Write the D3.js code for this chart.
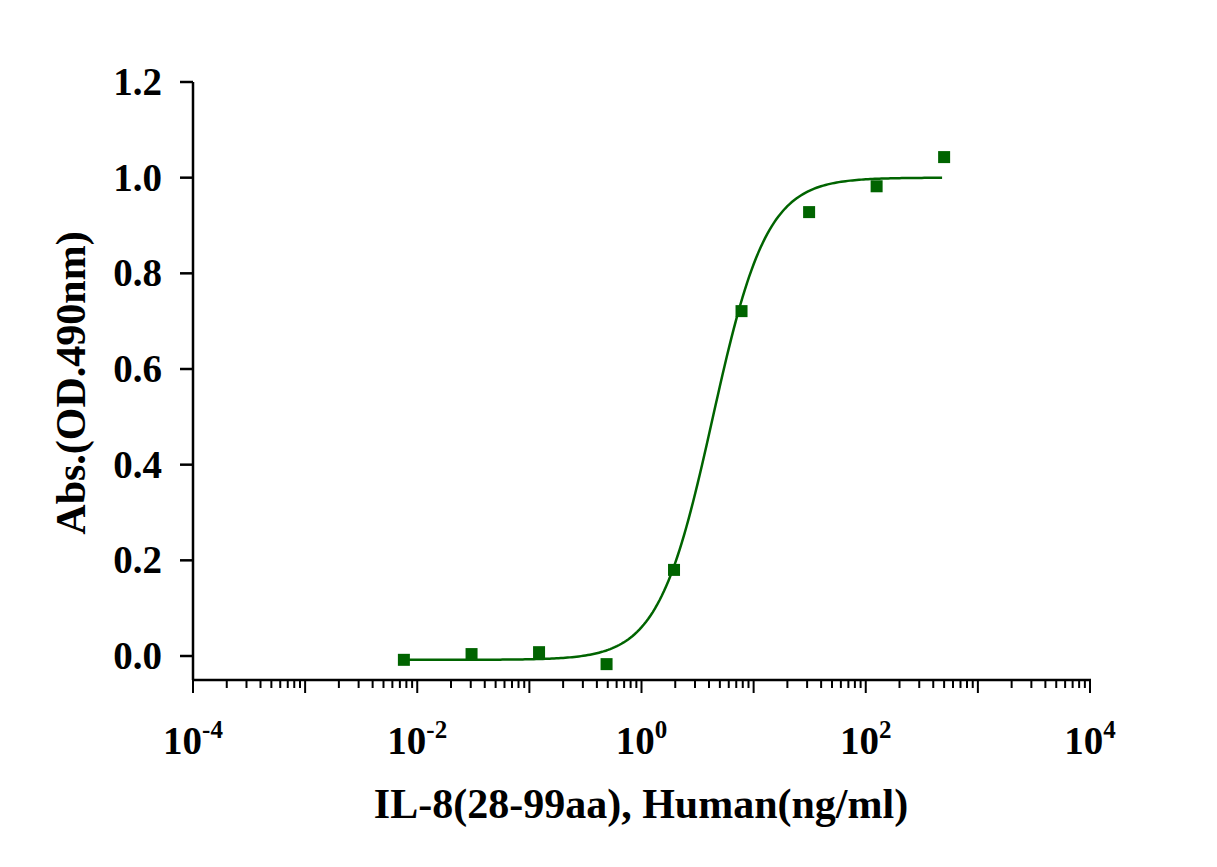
<!DOCTYPE html>
<html><head><meta charset="utf-8">
<script src="https://cdn.jsdelivr.net/npm/d3@7"></script>
<style>body{margin:0;background:#fff}text{font-family:"Liberation Serif","Times New Roman",serif;font-weight:bold;fill:#000}</style>
</head><body><svg id="c" width="1217" height="867"></svg>
<script>
const concentrations=[0.0076,0.0305,0.122,0.488,1.95,7.8,31.25,125,500];
const absorbance=[-0.008,0.004,0.008,-0.017,0.18,0.721,0.928,0.982,1.043];
const fitParams={bottom:-0.008,top:1.0,ec50:4.3,hill:1.8};
const yTicks=[0,0.2,0.4,0.6,0.8,1.0,1.2];
const xTickExps=[-4,-2,0,2,4];
const color="#006400";
const svg=d3.select("#c");
const x=d3.scaleLog().domain([1e-4,1e4]).range([193,1090]);
const y=d3.scaleLinear().domain([0,1.2]).range([656,82]);
const axisY=680;
svg.append("line").attr("x1",193).attr("x2",193).attr("y1",82).attr("y2",axisY).attr("stroke","#000").attr("stroke-width",2.5);
svg.append("line").attr("x1",192).attr("x2",1091).attr("y1",axisY).attr("y2",axisY).attr("stroke","#000").attr("stroke-width",2.5);
yTicks.forEach(v=>{
 svg.append("line").attr("x1",180).attr("x2",193).attr("y1",y(v)).attr("y2",y(v)).attr("stroke","#000").attr("stroke-width",2.5);
 svg.append("text").attr("x",162).attr("y",y(v)+13).attr("text-anchor","end").attr("font-size",39).text(v.toFixed(1));
});
for(let e=-4;e<4;e++){for(let m=1;m<10;m++){const v=m*Math.pow(10,e);
 svg.append("line").attr("x1",x(v)).attr("x2",x(v)).attr("y1",axisY).attr("y2",axisY+(m===1?13:8)).attr("stroke","#000").attr("stroke-width",2);}}
svg.append("line").attr("x1",x(1e4)).attr("x2",x(1e4)).attr("y1",axisY).attr("y2",axisY+13).attr("stroke","#000").attr("stroke-width",2);
xTickExps.forEach(e=>{
 const t=svg.append("text").attr("x",x(Math.pow(10,e))).attr("y",754).attr("text-anchor","middle").attr("font-size",39);
 t.append("tspan").text("10");
 t.append("tspan").attr("dy",-16).attr("font-size",25).text(e);
});
const lx=d3.range(Math.log10(concentrations[0]),Math.log10(500)+0.001,0.02);
const p=fitParams;
const curve=lx.map(l=>[Math.pow(10,l),p.bottom+(p.top-p.bottom)/(1+Math.pow(p.ec50/Math.pow(10,l),p.hill))]);
svg.append("path").attr("d",d3.line().x(d=>x(d[0])).y(d=>y(d[1]))(curve)).attr("fill","none").attr("stroke",color).attr("stroke-width",2.5);
concentrations.forEach((c,i)=>{
 svg.append("rect").attr("x",x(c)-6).attr("y",y(absorbance[i])-6).attr("width",12).attr("height",12).attr("fill",color);
});
svg.append("text").attr("x",641).attr("y",818).attr("text-anchor","middle").attr("font-size",42).text("IL-8(28-99aa), Human(ng/ml)");
svg.append("text").attr("transform","translate(85,383) rotate(-90)").attr("text-anchor","middle").attr("font-size",42).text("Abs.(OD.490nm)");
</script></body></html>
